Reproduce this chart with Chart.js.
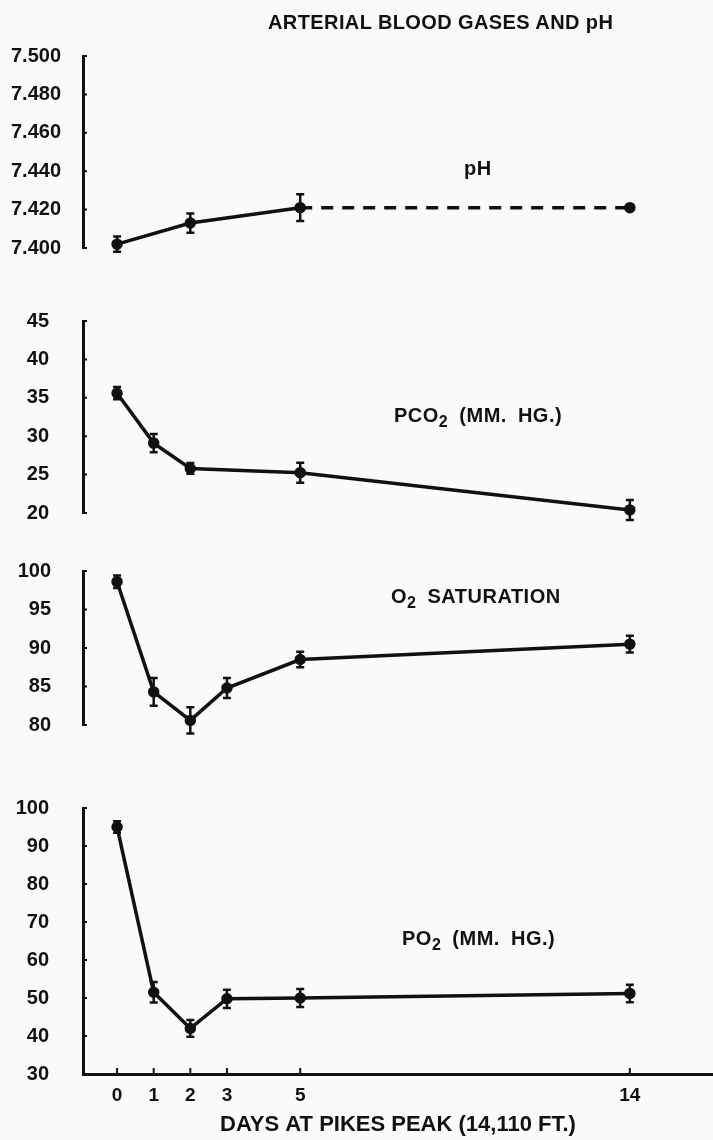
<!DOCTYPE html>
<html>
<head>
<meta charset="utf-8">
<script src="https://cdn.jsdelivr.net/npm/chart.js@4.4.0/dist/chart.umd.min.js"></script>
<style>
  body { margin: 0; background: #fafafa; }
  #page { position: relative; width: 713px; height: 1140px; overflow: hidden; }
  .panel { position: absolute; left: 0; width: 713px; }
  .lbl { position: absolute; font: bold 20px "Liberation Sans", Arial, sans-serif; line-height: 1;
         white-space: nowrap; color: #111; letter-spacing: 0.5px; word-spacing: 5px; z-index: 2; }
  .lbl sub { font-size: 16px; vertical-align: -5px; line-height: 0; }
</style>
</head>
<body>
<div id="page">
  <div class="lbl" style="left:268px; top:11.6px; letter-spacing:0.4px; word-spacing:0">ARTERIAL BLOOD GASES AND pH</div>
  <div class="lbl" style="left:464px; top:157.6px">pH</div>
  <div class="lbl" style="left:394px; top:404.6px">PCO<sub>2</sub> (MM. HG.)</div>
  <div class="lbl" style="left:391px; top:585.6px">O<sub>2</sub> SATURATION</div>
  <div class="lbl" style="left:402px; top:927.6px">PO<sub>2</sub> (MM. HG.)</div>

  <div class="panel" style="top:31px; height:242px"><canvas id="ph-chart"></canvas></div>
  <div class="panel" style="top:296px; height:242px"><canvas id="pco2-chart"></canvas></div>
  <div class="panel" style="top:546px; height:204px"><canvas id="o2-chart"></canvas></div>
  <div class="panel" style="top:783px; height:357px"><canvas id="po2-chart"></canvas></div>
</div>

<script>
// days at altitude on the x axis
const dayTicks = [0, 1, 2, 3, 5, 14];

// arterial pH (dashed from day 5 on)
const phDays = [0, 2, 5, 14];
const phValues = [7.402, 7.413, 7.421, 7.421];
const phErrors = [0.004, 0.005, 0.007, 0];
const phTicks = [7.400, 7.420, 7.440, 7.460, 7.480, 7.500];
const phDashFrom = 5;

// PCO2, mm Hg
const pco2Days = [0, 1, 2, 5, 14];
const pco2Values = [35.6, 29.1, 25.8, 25.25, 20.4];
const pco2Errors = [0.8, 1.2, 0.7, 1.3, 1.3];
const pco2Ticks = [20, 25, 30, 35, 40, 45];

// O2 saturation, %
const o2Days = [0, 1, 2, 3, 5, 14];
const o2Values = [98.6, 84.3, 80.6, 84.8, 88.5, 90.5];
const o2Errors = [0.8, 1.8, 1.7, 1.3, 1.0, 1.1];
const o2Ticks = [80, 85, 90, 95, 100];

// PO2, mm Hg
const po2Days = [0, 1, 2, 3, 5, 14];
const po2Values = [95, 51.5, 42, 49.8, 50, 51.2];
const po2Errors = [1.5, 2.7, 2.2, 2.4, 2.4, 2.3];
const po2Ticks = [30, 40, 50, 60, 70, 80, 90, 100];

const ink = "#111";
const fontFamily = '"Liberation Sans", Arial, sans-serif';

// error bars with little caps
const errorBars = {
  id: "errorBars",
  afterDatasetsDraw(chart) {
    const ctx = chart.ctx;
    const ys = chart.scales.y;
    chart.data.datasets.forEach(function(ds, i) {
      chart.getDatasetMeta(i).data.forEach(function(pt, j) {
        const e = ds.errors[j];
        if (!e) return;
        const top = ys.getPixelForValue(ds.data[j].y + e);
        const bot = ys.getPixelForValue(ds.data[j].y - e);
        ctx.save();
        ctx.strokeStyle = ink;
        ctx.lineWidth = 2.5;
        ctx.beginPath();
        ctx.moveTo(pt.x, top); ctx.lineTo(pt.x, bot);
        ctx.moveTo(pt.x - 4, top); ctx.lineTo(pt.x + 4, top);
        ctx.moveTo(pt.x - 4, bot); ctx.lineTo(pt.x + 4, bot);
        ctx.stroke();
        ctx.restore();
      });
    });
  }
};

// small tick marks on the inside of the axes
const innerTicks = {
  id: "innerTicks",
  afterDraw(chart) {
    const ctx = chart.ctx, area = chart.chartArea;
    const ys = chart.scales.y, xs = chart.scales.x;
    ctx.save();
    ctx.strokeStyle = ink;
    ctx.lineWidth = 2;
    ctx.beginPath();
    ys.ticks.forEach(function(t) {
      const py = ys.getPixelForValue(t.value);
      ctx.moveTo(area.left, py); ctx.lineTo(area.left + 4, py);
    });
    if (xs.options.display) {
      xs.ticks.forEach(function(t) {
        const px = xs.getPixelForValue(t.value);
        ctx.moveTo(px, area.bottom); ctx.lineTo(px, area.bottom - 6);
      });
    }
    ctx.stroke();
    ctx.restore();
  }
};

function makePanel(id, days, values, errors, ticks, opts) {
  const points = days.map(function(d, i) { return { x: d, y: values[i] }; });
  const dataset = {
    data: points,
    errors: errors,
    borderColor: ink,
    backgroundColor: ink,
    borderWidth: 3.5,
    pointRadius: 4,
    pointBackgroundColor: ink,
    pointBorderColor: ink,
    tension: 0,
    clip: false
  };
  if (opts.segment) dataset.segment = opts.segment;

  return new Chart(document.getElementById(id), {
    type: "line",
    data: { datasets: [dataset] },
    plugins: [errorBars, innerTicks],
    options: {
      responsive: true,
      maintainAspectRatio: false,
      animation: false,
      layout: { autoPadding: false, padding: { top: 25, bottom: opts.showX ? 0 : 25, left: 0, right: 0 } },
      plugins: { legend: { display: false }, tooltip: { enabled: false } },
      scales: {
        x: {
          type: "linear",
          min: -0.93,
          max: 16.27,
          display: opts.showX,
          afterBuildTicks: function(s) { s.ticks = dayTicks.map(function(v) { return { value: v }; }); },
          grid: { display: false, drawTicks: false },
          border: { display: true, width: 3, color: ink },
          ticks: { color: ink, font: { family: fontFamily, size: 19, weight: "bold" }, padding: 10, autoSkip: false, maxRotation: 0 },
          title: {
            display: true,
            text: "DAYS AT PIKES PEAK (14,110 FT.)",
            color: ink,
            font: { family: fontFamily, size: 22, weight: "bold" },
            padding: { top: 0, bottom: 2 }
          },
          afterFit: function(s) {
            if (opts.showX) s.height = 66;
            s.paddingLeft = 0; s.paddingRight = 0;
          }
        },
        y: {
          min: ticks[0],
          max: ticks[ticks.length - 1],
          afterBuildTicks: function(s) { s.ticks = ticks.map(function(v) { return { value: v }; }); },
          grid: { display: false, drawTicks: false },
          border: { display: true, width: 3, color: ink },
          ticks: {
            color: ink,
            autoSkip: false,
            font: { family: fontFamily, size: 20, weight: "bold" },
            padding: opts.labelPad,
            callback: opts.format || function(v) { return v; }
          },
          afterFit: function(s) { s.width = 83; s.paddingTop = 0; s.paddingBottom = 0; }
        }
      }
    }
  });
}

makePanel("ph-chart", phDays, phValues, phErrors, phTicks, {
  showX: false,
  labelPad: 22,
  format: function(v) { return v.toFixed(3); },
  segment: {
    borderDash: function(ctx) { return phDays[ctx.p0DataIndex] >= phDashFrom ? [12, 9] : undefined; }
  }
});
makePanel("pco2-chart", pco2Days, pco2Values, pco2Errors, pco2Ticks, { showX: false, labelPad: 34 });
makePanel("o2-chart", o2Days, o2Values, o2Errors, o2Ticks, { showX: false, labelPad: 32 });
makePanel("po2-chart", po2Days, po2Values, po2Errors, po2Ticks, { showX: true, labelPad: 34 });
</script>
</body>
</html>
